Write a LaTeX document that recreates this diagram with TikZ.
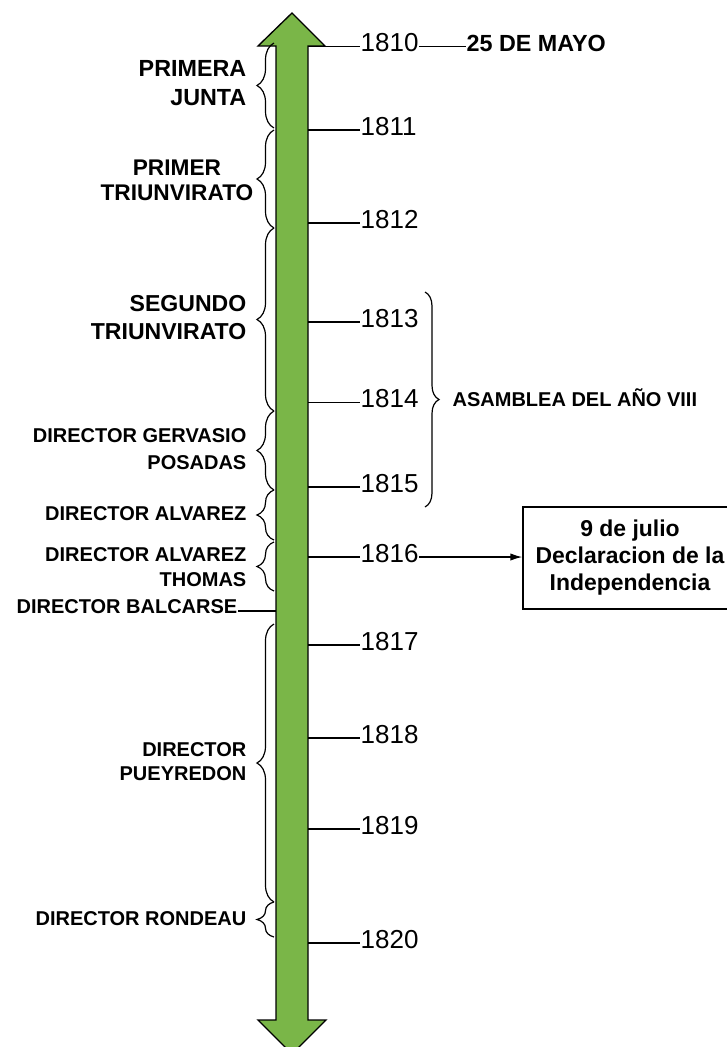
\documentclass[tikz,border=0pt]{standalone}
\usepackage{fontspec}
\setmainfont{Liberation Sans}
\usetikzlibrary{decorations.pathreplacing}
\usetikzlibrary{arrows.meta}
\definecolor{timegreen}{HTML}{7AB648}

\begin{document}
\begin{tikzpicture}[x=0.75pt, y=-0.75pt, line width=1pt,
year/.style={anchor=west, inner sep=0pt, font=\fontsize{19.5pt}{22pt}\selectfont},
period/.style={anchor=east, inner sep=0pt, align=right},
bigfont/.style={font=\bfseries\fontsize{17.5pt}{21.75pt}\selectfont},
smallfont/.style={font=\bfseries\fontsize{15pt}{20pt}\selectfont},
leftbrace/.style={decorate, decoration={brace, amplitude=12.75pt}, line width=0.9pt},
rightbrace/.style={decorate, decoration={brace, amplitude=10.5pt}, line width=0.9pt}]

\useasboundingbox (0,0) rectangle (727,1047);

\draw[fill=timegreen] (292,13) -- (325,46) -- (308,46) -- (308,1020) -- (326,1020) -- (292,1054)
 -- (258,1020) -- (276,1020) -- (276,46) -- (258,46) -- cycle;

\coordinate (t1810) at (308,46.7); \coordinate (t1811) at (308,130); \coordinate (t1812) at (308,223);
\coordinate (t1813) at (308,322); \coordinate (t1814) at (308,402.5); \coordinate (t1815) at (308,487);
\coordinate (t1816) at (308,557); \coordinate (t1817) at (308,645); \coordinate (t1818) at (308,738);
\coordinate (t1819) at (308,829); \coordinate (t1820) at (308,943);

\node[year] (y1810) at (360,43) {1810};
\node[year] (y1811) at (360,126.5) {1811};
\node[year] (y1812) at (360,219.5) {1812};
\node[year] (y1813) at (360,318.5) {1813};
\node[year] (y1814) at (360,399) {1814};
\node[year] (y1815) at (360,483.5) {1815};
\node[year] (y1816) at (360,553.5) {1816};
\node[year] (y1817) at (360,641.5) {1817};
\node[year] (y1818) at (360,734.5) {1818};
\node[year] (y1819) at (360,825.5) {1819};
\node[year] (y1820) at (360,939.5) {1820};

\draw (t1810) -- (t1810 -| y1810.west); \draw (t1811) -- (t1811 -| y1811.west);
\draw (t1812) -- (t1812 -| y1812.west); \draw (t1813) -- (t1813 -| y1813.west);
\draw (t1814) -- (t1814 -| y1814.west); \draw (t1815) -- (t1815 -| y1815.west);
\draw (t1816) -- (t1816 -| y1816.west); \draw (t1817) -- (t1817 -| y1817.west);
\draw (t1818) -- (t1818 -| y1818.west); \draw (t1819) -- (t1819 -| y1819.west);
\draw (t1820) -- (t1820 -| y1820.west);

\node[anchor=west, inner sep=0pt, bigfont] (mayo) at (466,43.5) {25 DE MAYO};
\draw (t1810 -| y1810.east) -- (t1810 -| mayo.west);

\node[period, bigfont] (junta) at (247,83) {PRIMERA\\JUNTA};
\node[period, align=center, font=\bfseries\fontsize{17pt}{19pt}\selectfont] (primer) at (254,180) {PRIMER\\TRIUNVIRATO};
\node[period, font=\bfseries\fontsize{17.3pt}{21pt}\selectfont] (segundo) at (247,317.5) {SEGUNDO\\TRIUNVIRATO};
\node[period, smallfont, font=\bfseries\fontsize{15pt}{20.25pt}\selectfont] (posadas) at (247,449) {DIRECTOR GERVASIO\\POSADAS};
\node[period, smallfont] (alvarez) at (247,514) {DIRECTOR ALVAREZ};
\node[period, font=\bfseries\fontsize{15pt}{18.4pt}\selectfont] (thomas) at (247,567) {DIRECTOR ALVAREZ\\THOMAS};
\node[period, smallfont] (balcarse) at (238,607) {DIRECTOR BALCARSE};
\node[period, font=\bfseries\fontsize{15pt}{18pt}\selectfont] (pueyredon) at (247,762) {DIRECTOR\\PUEYREDON};
\node[period, smallfont] (rondeau) at (247,918.5) {DIRECTOR RONDEAU};

\coordinate (sb) at (276,611);
\draw (sb) -- (sb -| balcarse.east);

\draw[leftbrace] (274,128) -- (274,43);
\draw[leftbrace] (274,228) -- (274,130);
\draw[leftbrace] (274,411) -- (274,228);
\draw[leftbrace] (274,490) -- (274,411);
\draw[leftbrace] (274,540) -- (274,490);
\draw[leftbrace] (274,591) -- (274,542);
\draw[leftbrace] (274,902) -- (274,624);
\draw[leftbrace] (274,937) -- (274,902);

\draw[rightbrace] (425,292) -- (425,507);
\node[anchor=west, inner sep=0pt, smallfont] (asamblea) at (452,398) {ASAMBLEA DEL AÑO VIII};

\node[draw, minimum width=160.5pt, minimum height=76.5pt, align=center,
 font=\bfseries\fontsize{17.2pt}{20.25pt}\selectfont] (decl) at (630,558) {9 de julio\\Declaracion de la\\Independencia};
\draw[-{Latex[length=9pt,width=5.5pt]}] (t1816 -| y1816.east) -- (t1816 -| decl.west);

\end{tikzpicture}
\end{document}
